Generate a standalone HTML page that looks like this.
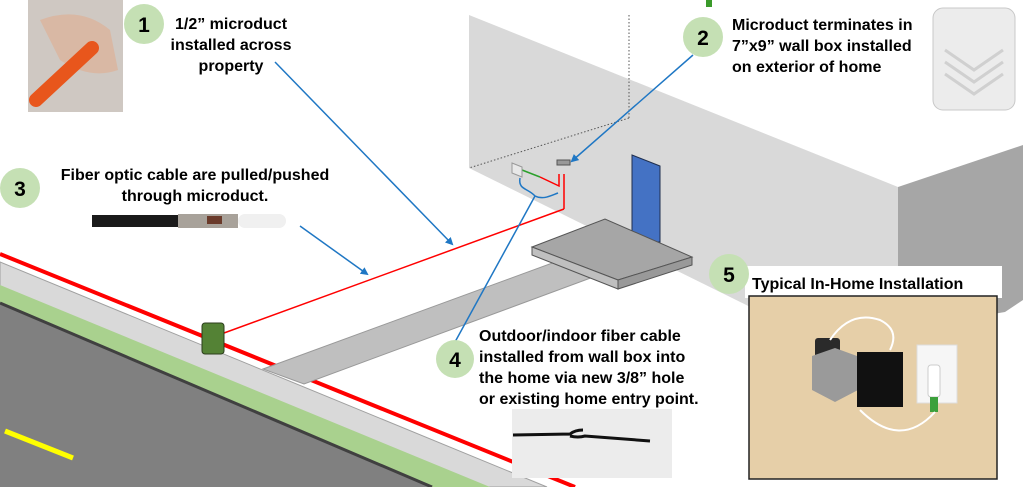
<!DOCTYPE html>
<html><head><meta charset="utf-8"><style>
html,body{margin:0;padding:0;background:#fff;}
body{width:1023px;height:487px;overflow:hidden;position:relative;font-family:"Liberation Sans",Arial,sans-serif;}
svg{position:absolute;left:0;top:0;}
.t{position:absolute;font-weight:bold;font-size:16px;line-height:21px;color:#000;white-space:nowrap;}
</style></head><body>
<svg width="1023" height="487" viewBox="0 0 1023 487">
<defs><marker id="ah" markerWidth="8" markerHeight="8" refX="6" refY="4" orient="auto" markerUnits="userSpaceOnUse"><path d="M0,0 L8,4 L0,8 z" fill="#1f77c4"/></marker></defs>
<!-- house walls -->
<polygon points="469,15 898,187 898,380 469,168" fill="#d9d9d9"/>
<polygon points="898,187 1023,145 1023,300 1005,312 898,330" fill="#a6a6a6"/>
<line x1="629" y1="15" x2="629" y2="118" stroke="#555" stroke-width="1" stroke-dasharray="1.5,2"/>
<line x1="629" y1="118" x2="469" y2="168" stroke="#555" stroke-width="1" stroke-dasharray="1.5,2"/>
<rect x="706" y="0" width="6" height="7" fill="#3a9a2a"/>
<!-- door -->
<polygon points="632,155 660,166 660,242 632,242" fill="#4472c4" stroke="#1f2f4f" stroke-width="1"/>
<!-- road -->
<polygon points="0,262 547,487 0,487" fill="#d9d9d9" stroke="#a0a0a0" stroke-width="1"/>
<polygon points="0,285 490,487 0,487" fill="#a9d18e"/>
<polygon points="0,303 432,487 0,487" fill="#808080"/>
<line x1="0" y1="303" x2="432" y2="487" stroke="#404040" stroke-width="3"/>
<line x1="0" y1="254" x2="575" y2="487" stroke="#ff0000" stroke-width="4"/>
<line x1="5" y1="431" x2="73" y2="458" stroke="#ffff00" stroke-width="5"/>
<!-- driveway -->
<polygon points="263,369 555,262 596,276 304,384" fill="#bfbfbf" stroke="#999" stroke-width="1"/>
<!-- porch -->
<polygon points="532,247 605,219 692,257 618,280" fill="#a6a6a6" stroke="#555" stroke-width="1"/>
<polygon points="532,247 618,280 618,289 532,255" fill="#bfbfbf" stroke="#555" stroke-width="1"/>
<polygon points="618,280 692,257 692,265 618,289" fill="#999" stroke="#555" stroke-width="1"/>
<!-- microduct -->
<line x1="224" y1="333" x2="564" y2="209" stroke="#ff0000" stroke-width="1.5"/>
<line x1="564" y1="174" x2="564" y2="209" stroke="#ff0000" stroke-width="1.5"/>
<polyline points="540,177 559,186 559,174" fill="none" stroke="#ff0000" stroke-width="1.5"/>
<line x1="522" y1="170" x2="540" y2="177" stroke="#2ca02c" stroke-width="1.5"/>
<polygon points="512,163 522,167 522,177 512,173" fill="#e8e8e8" stroke="#999" stroke-width="1"/>
<rect x="557" y="160" width="13" height="5" fill="#999" stroke="#555" stroke-width="1"/>
<rect x="202" y="323" width="22" height="31" rx="3" fill="#548235" stroke="#2c3e1c" stroke-width="1"/>
<!-- blue brace + line 4 -->
<path d="M520,178 C518,190 528,188 535,196 C543,200 550,196 558,193" fill="none" stroke="#1f77c4" stroke-width="1.5"/>
<line x1="535" y1="196" x2="455" y2="342" stroke="#1f77c4" stroke-width="1.5"/>
<!-- arrows -->
<line x1="275" y1="62" x2="452" y2="244" stroke="#1f77c4" stroke-width="1.5" marker-end="url(#ah)"/>
<line x1="300" y1="226" x2="367" y2="274" stroke="#1f77c4" stroke-width="1.5" marker-end="url(#ah)"/>
<line x1="693" y1="55" x2="572" y2="161" stroke="#1f77c4" stroke-width="1.5" marker-end="url(#ah)"/>
<!-- photo 1 -->
<rect x="28" y="0" width="95" height="112" fill="#cfc8c2"/>
<path d="M40,20 Q80,5 110,30 L118,70 Q90,80 60,60 Z" fill="#d9b8a4"/>
<line x1="36" y1="100" x2="92" y2="48" stroke="#e8561c" stroke-width="14" stroke-linecap="round"/>
<!-- photo 2 box -->
<rect x="933" y="8" width="82" height="102" rx="10" fill="#ececec" stroke="#c8c8c8"/>
<path d="M945,50 L974,70 L1003,50 M945,62 L974,82 L1003,62 M945,74 L974,94 L1003,74" fill="none" stroke="#d0d0d0" stroke-width="3"/>
<!-- photo 3 cable -->
<rect x="92" y="215" width="86" height="12" fill="#1a1a1a"/>
<rect x="178" y="214" width="60" height="14" fill="#a8a29a"/>
<rect x="207" y="216" width="15" height="8" fill="#6a3a2a"/>
<rect x="238" y="214" width="48" height="14" rx="7" fill="#f0f0f0"/>
<!-- photo 4 -->
<rect x="512" y="409" width="160" height="69" fill="#ececec"/>
<path d="M513,435 L570,434 Q575,430 583,430 M570,436 Q578,438 585,436 L650,441" fill="none" stroke="#111" stroke-width="3"/>
<!-- photo 5 -->
<rect x="745" y="266" width="257" height="32" fill="#fff"/>
<rect x="749" y="296" width="248" height="183" fill="#e6cfa8" stroke="#222" stroke-width="1.5"/>
<rect x="815" y="338" width="25" height="28" rx="3" fill="#2a2a2a"/>
<polygon points="812,356 835,348 857,356 858,390 835,402 812,390" fill="#9a9a9a"/>
<rect x="857" y="352" width="46" height="55" fill="#111"/>
<rect x="917" y="345" width="40" height="58" fill="#f6f6f6" stroke="#ddd"/>
<rect x="928" y="365" width="12" height="32" rx="3" fill="#fff" stroke="#ccc"/>
<rect x="930" y="397" width="8" height="15" fill="#3ca03c"/>
<path d="M830,340 Q850,310 880,320 Q900,330 890,350 M860,410 Q900,450 935,412" fill="none" stroke="#fff" stroke-width="2"/>
<!-- circles -->
<g fill="#c5e0b4"><circle cx="144" cy="24" r="20"/><circle cx="703" cy="37" r="20"/><circle cx="20" cy="188" r="20"/><circle cx="455" cy="359" r="19"/><circle cx="729" cy="274" r="20"/></g>
<g font-family="Liberation Sans, Arial, sans-serif" font-weight="bold" font-size="21" text-anchor="middle" fill="#000">
<text x="144" y="32">1</text><text x="703" y="45">2</text><text x="20" y="196">3</text><text x="455" y="367">4</text><text x="729" y="282">5</text></g>
</svg>
<div class="t" style="left:166px;top:14px;width:130px;text-align:center;">1/2” microduct<br>installed across<br>property</div>
<div class="t" style="left:50px;top:165px;width:290px;text-align:center;">Fiber optic cable are pulled/pushed<br>through microduct.</div>
<div class="t" style="left:732px;top:15px;">Microduct terminates in<br>7”x9” wall box installed<br>on exterior of home</div>
<div class="t" style="left:479px;top:326px;">Outdoor/indoor fiber cable<br>installed from wall box into<br>the home via new 3/8” hole<br>or existing home entry point.</div>
<div class="t" style="left:752px;top:274px;">Typical In-Home Installation</div>
</body></html>
